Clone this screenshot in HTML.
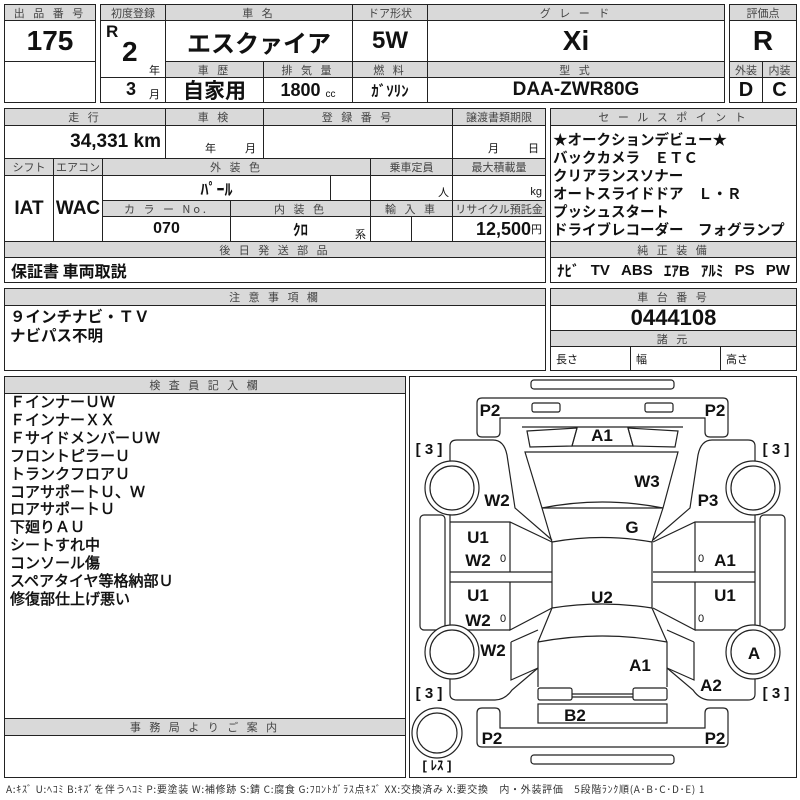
<!DOCTYPE html>
<html><head><meta charset="utf-8">
<style>
*{margin:0;padding:0}
body{width:800px;height:800px;background:#fff;position:relative;overflow:hidden;font-family:"Liberation Sans","Noto Sans CJK JP",sans-serif;color:#111}
.c{position:absolute;border:1px solid #222;box-sizing:border-box;display:flex;align-items:center;justify-content:center;white-space:nowrap;overflow:hidden}
.h{background:#d9d9d9;font-size:11px;color:#444;letter-spacing:3px;font-family:"Noto Sans CJK JP",sans-serif}
.b{font-weight:bold;font-family:"Liberation Sans","Noto Sans CJK JP",sans-serif}
.t{position:absolute;white-space:nowrap}
.lst{position:absolute;font-family:"Noto Sans CJK JP",sans-serif;font-weight:bold;white-space:pre}
</style></head><body>
<!-- Block 1 -->
<div class="c h" style="left:4px;top:4px;width:92px;height:17px">出 品 番 号</div>
<div class="c b" style="left:4px;top:20px;width:92px;height:42px;font-size:28px">175</div>
<div class="c" style="left:4px;top:61px;width:92px;height:42px"></div>
<!-- Block 2 -->
<div class="c h" style="left:100px;top:4px;width:66px;height:17px;letter-spacing:0">初度登録</div>
<div class="c h" style="left:165px;top:4px;width:188px;height:17px">車 名</div>
<div class="c h" style="left:352px;top:4px;width:76px;height:17px;letter-spacing:0">ドア形状</div>
<div class="c h" style="left:427px;top:4px;width:298px;height:17px">グ レ ー ド</div>
<div class="c" style="left:100px;top:20px;width:66px;height:58px"></div>
<div class="t b" style="left:106px;top:22px;font-size:17px">R</div>
<div class="t b" style="left:122px;top:36px;font-size:28px">2</div>
<div class="t" style="left:149px;top:62px;font-size:11px">年</div>
<div class="c" style="left:100px;top:77px;width:66px;height:26px"></div>
<div class="t b" style="left:126px;top:79px;font-size:18px">3</div>
<div class="t" style="left:149px;top:86px;font-size:11px">月</div>
<div class="c b" style="left:165px;top:20px;width:188px;height:42px;font-size:24px;font-family:'Noto Sans CJK JP',sans-serif">エスクァイア</div>
<div class="c b" style="left:352px;top:20px;width:76px;height:42px;font-size:24px">5W</div>
<div class="c b" style="left:427px;top:20px;width:298px;height:42px;font-size:28px">Xi</div>
<div class="c h" style="left:165px;top:61px;width:99px;height:17px">車 歴</div>
<div class="c h" style="left:263px;top:61px;width:90px;height:17px">排 気 量</div>
<div class="c h" style="left:352px;top:61px;width:76px;height:17px">燃 料</div>
<div class="c h" style="left:427px;top:61px;width:298px;height:17px">型 式</div>
<div class="c b" style="left:165px;top:77px;width:99px;height:26px;font-size:21px;font-family:'Noto Sans CJK JP',sans-serif">自家用</div>
<div class="c b" style="left:263px;top:77px;width:90px;height:26px;font-size:18px">1800&nbsp;<span style="font-size:10px;font-weight:normal;margin-top:8px">cc</span></div>
<div class="c b" style="left:352px;top:77px;width:76px;height:26px;font-size:15px;font-family:'Noto Sans CJK JP',sans-serif">ｶﾞｿﾘﾝ</div>
<div class="c b" style="left:427px;top:77px;width:298px;height:26px;font-size:19px">DAA-ZWR80G</div>
<!-- Block 3 -->
<div class="c h" style="left:729px;top:4px;width:68px;height:17px;letter-spacing:0">評価点</div>
<div class="c b" style="left:729px;top:20px;width:68px;height:42px;font-size:28px">R</div>
<div class="c h" style="left:729px;top:61px;width:34px;height:17px;letter-spacing:0">外装</div>
<div class="c h" style="left:762px;top:61px;width:35px;height:17px;letter-spacing:0">内装</div>
<div class="c b" style="left:729px;top:77px;width:34px;height:26px;font-size:20px">D</div>
<div class="c b" style="left:762px;top:77px;width:35px;height:26px;font-size:20px">C</div>
<!-- second block -->
<div class="c h" style="left:4px;top:108px;width:162px;height:18px">走 行</div>
<div class="c h" style="left:165px;top:108px;width:99px;height:18px">車 検</div>
<div class="c h" style="left:263px;top:108px;width:190px;height:18px">登 録 番 号</div>
<div class="c h" style="left:452px;top:108px;width:94px;height:18px;letter-spacing:0">譲渡書類期限</div>
<div class="c b" style="left:4px;top:125px;width:162px;height:34px;font-size:19px;justify-content:flex-end;padding-right:4px">34,331 km</div>
<div class="c" style="left:165px;top:125px;width:99px;height:34px"></div>
<div class="t" style="left:205px;top:140px;font-size:11px">年</div>
<div class="t" style="left:245px;top:140px;font-size:11px">月</div>
<div class="c" style="left:263px;top:125px;width:190px;height:34px"></div>
<div class="c" style="left:452px;top:125px;width:94px;height:34px"></div>
<div class="t" style="left:488px;top:140px;font-size:11px">月</div>
<div class="t" style="left:528px;top:140px;font-size:11px">日</div>
<div class="c h" style="left:4px;top:158px;width:50px;height:18px;letter-spacing:0">シフト</div>
<div class="c h" style="left:53px;top:158px;width:50px;height:18px;letter-spacing:0">エアコン</div>
<div class="c h" style="left:102px;top:158px;width:269px;height:18px">外 装 色</div>
<div class="c h" style="left:370px;top:158px;width:83px;height:18px;letter-spacing:0">乗車定員</div>
<div class="c h" style="left:452px;top:158px;width:94px;height:18px;letter-spacing:0">最大積載量</div>
<div class="c b" style="left:4px;top:175px;width:50px;height:67px;font-size:19px">IAT</div>
<div class="c b" style="left:53px;top:175px;width:50px;height:67px;font-size:19px">WAC</div>
<div class="c b" style="left:102px;top:175px;width:229px;height:26px;font-size:16px;font-family:'Noto Sans CJK JP',sans-serif">ﾊﾟｰﾙ</div>
<div class="c" style="left:330px;top:175px;width:41px;height:26px"></div>
<div class="c" style="left:370px;top:175px;width:83px;height:26px;justify-content:flex-end;font-size:11px;padding:8px 3px 0 0">人</div>
<div class="c" style="left:452px;top:175px;width:94px;height:26px;justify-content:flex-end;font-size:11px;padding:8px 3px 0 0">kg</div>
<div class="c h" style="left:102px;top:200px;width:129px;height:17px">カ ラ ー No.</div>
<div class="c h" style="left:230px;top:200px;width:141px;height:17px">内 装 色</div>
<div class="c h" style="left:370px;top:200px;width:83px;height:17px">輸 入 車</div>
<div class="c h" style="left:452px;top:200px;width:94px;height:17px;letter-spacing:0">リサイクル預託金</div>
<div class="c b" style="left:102px;top:216px;width:129px;height:26px;font-size:16px">070</div>
<div class="c b" style="left:230px;top:216px;width:141px;height:26px;font-size:15px;font-family:'Noto Sans CJK JP',sans-serif">ｸﾛ</div>
<div class="t" style="left:355px;top:226px;font-size:11px">系</div>
<div class="c" style="left:370px;top:216px;width:42px;height:26px"></div>
<div class="c" style="left:411px;top:216px;width:42px;height:26px"></div>
<div class="c b" style="left:452px;top:216px;width:94px;height:26px;font-size:18px;justify-content:flex-end;padding-right:3px">12,500<span style="font-size:11px;font-weight:normal">円</span></div>
<div class="c h" style="left:4px;top:241px;width:542px;height:17px">後 日 発 送 部 品</div>
<div class="c b" style="left:4px;top:257px;width:542px;height:26px;font-size:16px;justify-content:flex-start;padding-left:6px;font-family:'Noto Sans CJK JP',sans-serif">保証書 車両取説</div>
<!-- sales point -->
<div class="c h" style="left:550px;top:108px;width:247px;height:18px">セ ー ル ス ポ イ ン ト</div>
<div class="c" style="left:550px;top:125px;width:247px;height:117px"></div>
<div class="lst" style="left:553px;top:131px;font-size:14.5px;line-height:18px">★オークションデビュー★
バックカメラ　ＥＴＣ
クリアランスソナー
オートスライドドア　Ｌ・Ｒ
プッシュスタート
ドライブレコーダー　フォグランプ</div>
<div class="c h" style="left:550px;top:241px;width:247px;height:17px">純 正 装 備</div>
<div class="c b" style="left:550px;top:257px;width:247px;height:26px;font-size:15px;justify-content:space-between;padding:0 6px;font-family:'Liberation Sans','Noto Sans CJK JP',sans-serif"><span>ﾅﾋﾞ</span><span>TV</span><span>ABS</span><span>ｴｱB</span><span>ｱﾙﾐ</span><span>PS</span><span>PW</span></div>
<!-- row 3 -->
<div class="c h" style="left:4px;top:288px;width:542px;height:18px">注 意 事 項 欄</div>
<div class="c" style="left:4px;top:305px;width:542px;height:66px"></div>
<div class="lst" style="left:10px;top:307px;font-size:15.5px;line-height:19px">９インチナビ・ＴＶ
ナビパス不明</div>
<div class="c h" style="left:550px;top:288px;width:247px;height:18px">車 台 番 号</div>
<div class="c b" style="left:550px;top:305px;width:247px;height:26px;font-size:22px">0444108</div>
<div class="c h" style="left:550px;top:330px;width:247px;height:17px">諸 元</div>
<div class="c" style="left:550px;top:346px;width:81px;height:25px;justify-content:flex-start;padding-left:5px;font-size:11px">長さ</div>
<div class="c" style="left:630px;top:346px;width:91px;height:25px;justify-content:flex-start;padding-left:5px;font-size:11px">幅</div>
<div class="c" style="left:720px;top:346px;width:77px;height:25px;justify-content:flex-start;padding-left:5px;font-size:11px">高さ</div>
<!-- bottom left -->
<div class="c h" style="left:4px;top:376px;width:402px;height:18px">検 査 員 記 入 欄</div>
<div class="c" style="left:4px;top:393px;width:402px;height:326px"></div>
<div class="lst" style="left:10px;top:393px;font-size:15px;line-height:17.9px;font-weight:normal;-webkit-text-stroke:0.5px #111">ＦインナーＵＷ
ＦインナーＸＸ
ＦサイドメンバーＵＷ
フロントピラーＵ
トランクフロアＵ
コアサポートＵ、Ｗ
ロアサポートＵ
下廻りＡＵ
シートすれ中
コンソール傷
スペアタイヤ等格納部Ｕ
修復部仕上げ悪い</div>
<div class="c h" style="left:4px;top:718px;width:402px;height:18px">事 務 局 よ り ご 案 内</div>
<div class="c" style="left:4px;top:735px;width:402px;height:43px"></div>
<div class="c" style="left:409px;top:376px;width:388px;height:402px"></div>
<div class="t" style="left:6px;top:781px;font-size:10px;letter-spacing:0.7px;color:#333;font-family:'Noto Sans CJK JP',sans-serif">A:ｷｽﾞ U:ﾍｺﾐ B:ｷｽﾞを伴うﾍｺﾐ P:要塗装 W:補修跡 S:錆 C:腐食 G:ﾌﾛﾝﾄｶﾞﾗｽ点ｷｽﾞ XX:交換済み X:要交換　内・外装評価　5段階ﾗﾝｸ順(A･B･C･D･E) 1</div>
<!-- car diagram -->
<svg style="position:absolute;left:0;top:0" width="800" height="800" viewBox="0 0 800 800">
<g fill="none" stroke="#222" stroke-width="1.2">
<rect x="531" y="380" width="143" height="9" rx="3"/>
<rect x="531" y="755" width="143" height="9" rx="3"/>
<path d="M477,403 Q477,398 482,398 L723,398 Q728,398 728,403 L728,432 Q728,437 723,437 L710,437 Q705,437 705,432 L705,418 L500,418 L500,432 Q500,437 495,437 L482,437 Q477,437 477,432 Z"/>
<rect x="532" y="403" width="28" height="9" rx="2"/>
<rect x="645" y="403" width="28" height="9" rx="2"/>
<path d="M477,713 Q477,708 482,708 L495,708 Q500,708 500,713 L500,728 L705,728 L705,713 Q705,708 710,708 L723,708 Q728,708 728,713 L728,742 Q728,747 723,747 L482,747 Q477,747 477,742 Z"/>
<path d="M522,427 L683,427"/>
<path d="M527,431 L577,428 L572,446 L530,447 Z"/>
<path d="M678,431 L628,428 L633,446 L675,447 Z"/>
<path d="M577,428 L572,446 L633,446 L628,428"/>
<path d="M525,452 L678,452 L663,508 L542,508 Z"/>
<path d="M542,508 Q602,496 663,508"/>
<path d="M542,508 L552,542 M663,508 L652,542"/>
<path d="M552,542 Q602,533 652,542 L652,608 Q602,600 552,608 Z"/>
<path d="M552,608 L538,642 L538,687 M652,608 L667,642 L667,687"/>
<path d="M538,642 Q602,630 667,642"/>
<rect x="538" y="688" width="34" height="12" rx="2"/>
<rect x="633" y="688" width="34" height="12" rx="2"/>
<path d="M572,694 L633,694 M572,697 L633,697"/>
<rect x="538" y="704" width="129" height="19"/>
<path d="M450,462 L450,446 Q450,440 457,440 L493,440 Q504,440 507,455 L515,508 L552,540"/>
<path d="M755,462 L755,446 Q755,440 748,440 L712,440 Q701,440 698,455 L690,508 L653,540"/>
<path d="M450,514 L450,630 M755,514 L755,630"/>
<path d="M450,522 L510,522 L552,542 M510,522 L510,572 M450,572 L552,572 M450,582 L552,582 M510,582 L510,630 L552,608 M450,630 L510,630"/>
<path d="M755,522 L695,522 L653,542 M695,522 L695,572 M755,572 L653,572 M755,582 L653,582 M695,582 L695,630 L653,608 M755,630 L695,630"/>
<rect x="420" y="515" width="25" height="115" rx="4"/>
<rect x="760" y="515" width="25" height="115" rx="4"/>
<path d="M450,674 L450,694 Q450,700 457,700 L495,700 Q505,700 512,690 L538,668"/>
<path d="M755,674 L755,694 Q755,700 748,700 L710,700 Q700,700 693,690 L667,668"/>
<path d="M511,642 L538,630 M511,642 L511,680 L538,668"/>
<path d="M694,642 L667,630 M694,642 L694,680 L667,668"/>
<circle cx="452" cy="488" r="27" fill="#fff"/><circle cx="452" cy="488" r="22"/>
<circle cx="753" cy="488" r="27" fill="#fff"/><circle cx="753" cy="488" r="22"/>
<circle cx="452" cy="652" r="27" fill="#fff"/><circle cx="452" cy="652" r="22"/>
<circle cx="753" cy="652" r="27" fill="#fff"/><circle cx="753" cy="652" r="22"/>
<circle cx="437" cy="733" r="25"/><circle cx="437" cy="733" r="20"/>
</g>
<g font-family="Liberation Sans, Noto Sans CJK JP, sans-serif" font-weight="bold" font-size="17" fill="#111" text-anchor="middle">
<text x="490" y="416">P2</text><text x="715" y="416">P2</text>
<text x="602" y="441">A1</text>
<text x="647" y="487">W3</text>
<text x="497" y="506">W2</text><text x="708" y="506">P3</text>
<text x="632" y="533">G</text>
<text x="478" y="543">U1</text><text x="478" y="566">W2</text>
<text x="725" y="566">A1</text>
<text x="478" y="601">U1</text><text x="602" y="603">U2</text><text x="725" y="601">U1</text>
<text x="478" y="626">W2</text>
<text x="493" y="656">W2</text>
<text x="754" y="659">A</text>
<text x="640" y="671">A1</text>
<text x="711" y="691">A2</text>
<text x="575" y="721">B2</text>
<text x="492" y="744">P2</text><text x="715" y="744">P2</text>
</g>
<g font-family="Liberation Sans, sans-serif" font-size="11" fill="#111" text-anchor="middle">
<text x="503" y="562">0</text><text x="701" y="562">0</text>
<text x="503" y="622">0</text><text x="701" y="622">0</text>
</g>
<g font-family="Liberation Sans, Noto Sans CJK JP, sans-serif" font-size="15" font-weight="bold" fill="#111" text-anchor="middle">
<text x="429" y="454">[ 3 ]</text><text x="776" y="454">[ 3 ]</text>
<text x="429" y="698">[ 3 ]</text><text x="776" y="698">[ 3 ]</text>
<text x="437" y="770" font-size="13">[ ﾚｽ ]</text>
</g>
</svg>
</body></html>
